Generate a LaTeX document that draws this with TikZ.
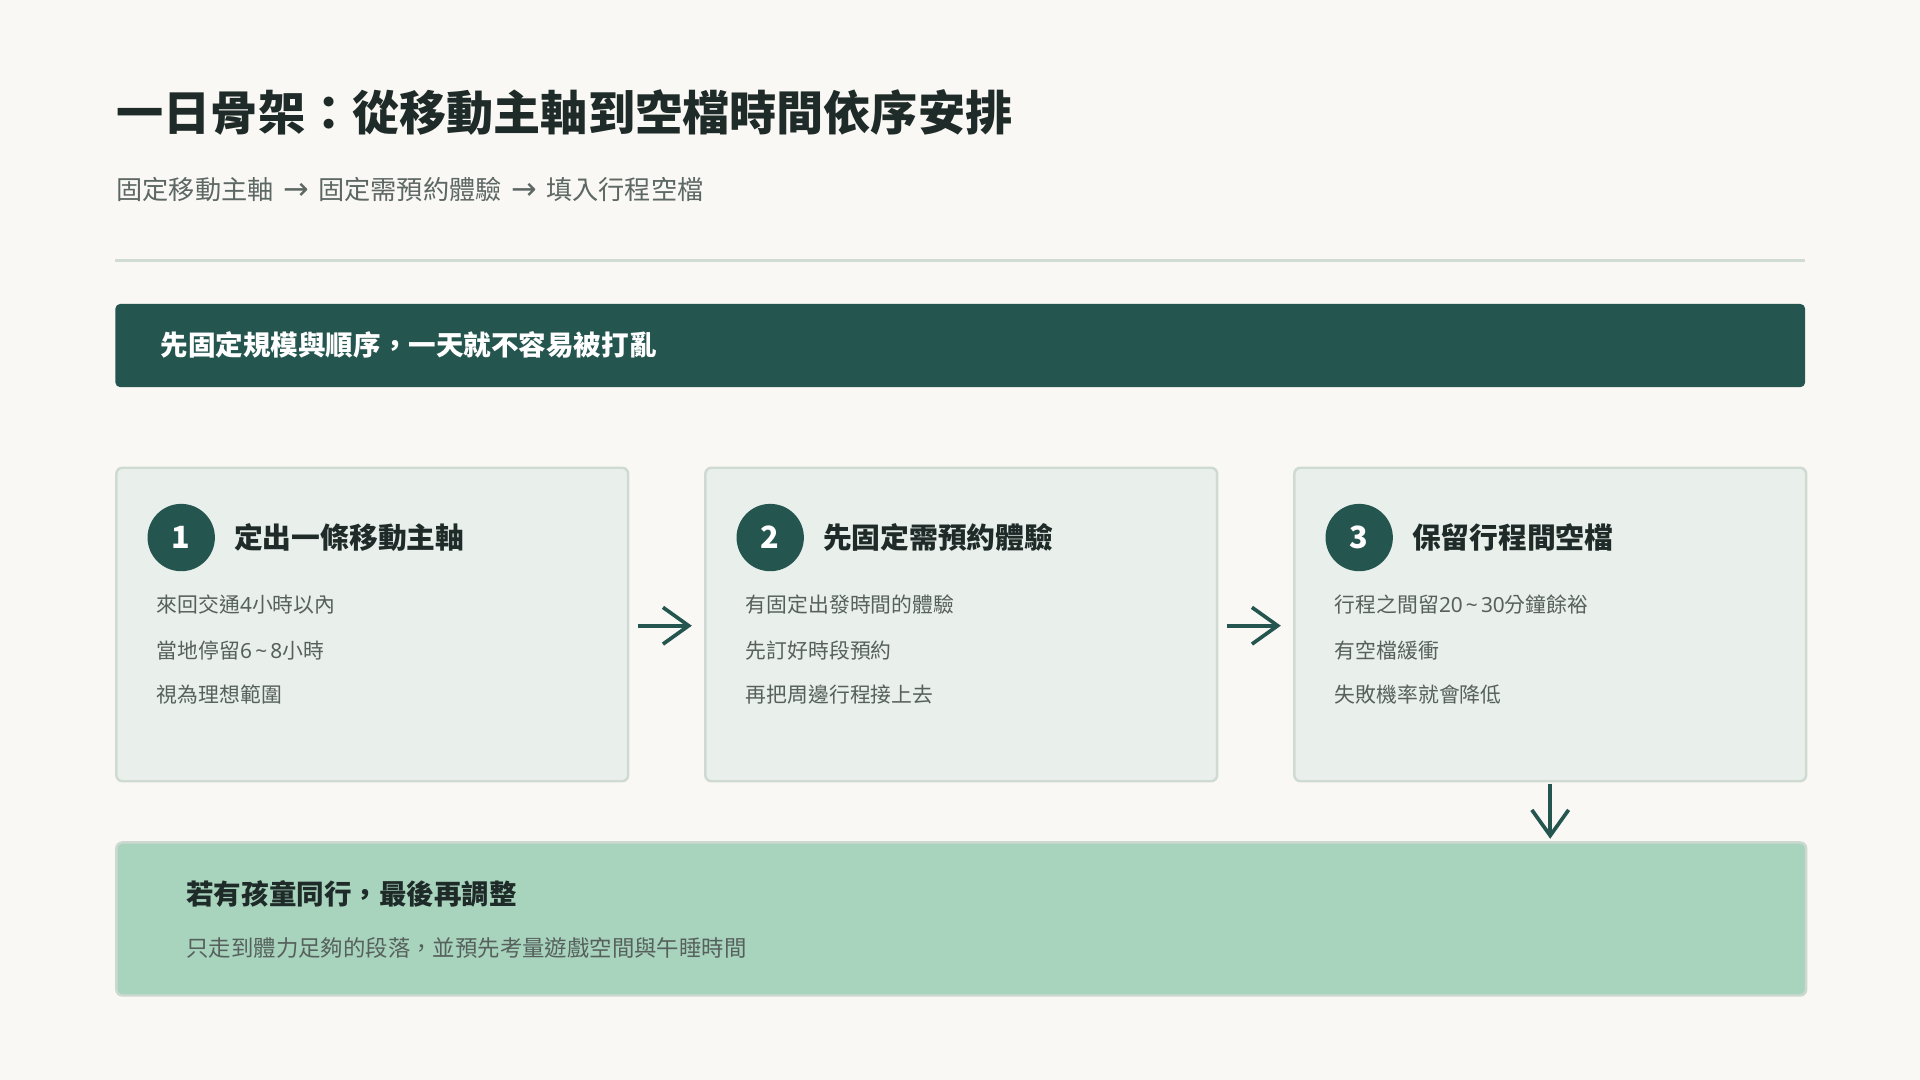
\documentclass[tikz,border=0pt]{standalone}
\usepackage{fontspec}
\setmainfont{Noto Sans CJK TC}
\newfontfamily\latf{Noto Sans}
\newfontfamily\arrf{DejaVu Sans}
\newcommand{\rarr}{\hspace{0.36em}{\arrf\fontsize{25}{25}\selectfont →}\hspace{0.36em}}
\newcommand{\tld}{\hspace{0.15em}{\latf\textasciitilde}\hspace{0.15em}}
\usetikzlibrary{arrows.meta}
\definecolor{bgc}{HTML}{F9F8F4}
\definecolor{darkg}{HTML}{24554F}
\definecolor{titlec}{HTML}{1F2B28}
\definecolor{subc}{HTML}{5D6763}
\definecolor{divc}{HTML}{D0DBD4}
\definecolor{cardf}{HTML}{E9EFEB}
\definecolor{cardb}{HTML}{CFDAD3}
\definecolor{itemc}{HTML}{56605C}
\definecolor{botf}{HTML}{A8D4BE}
\definecolor{botb}{HTML}{CDD8D1}
\tikzset{
  card/.style={draw=cardb, line width=2pt, fill=cardf, rounded corners=5pt, anchor=north west, minimum width=418pt, minimum height=256pt, inner sep=0pt},
  numcirc/.style={circle, fill=darkg, minimum size=55pt, inner sep=0pt, text=white, font=\fontsize{25}{28}\selectfont\bfseries},
  cardtitle/.style={anchor=west, inner sep=0pt, text=titlec, font=\fontsize{23.5}{28}\selectfont\bfseries},
  itemtxt/.style={anchor=west, inner sep=0pt, text=itemc, font=\fontsize{17}{20}\selectfont},
  flowarr/.style={draw=darkg, line width=3pt, -{Straight Barb[length=21pt, width=30pt, line width=3pt]}},
}
\begin{document}
\begin{tikzpicture}[x=1pt,y=-1pt]
\fill[bgc] (0,0) rectangle (1568,882);
\useasboundingbox (0,0) rectangle (1568,882);

% title and subtitle
\node[anchor=west, inner sep=0pt, text=titlec, font=\fontsize{38.5}{44}\selectfont\bfseries] (title) at (95,92) {一日骨架：從移動主軸到空檔時間依序安排};
\node[anchor=west, inner sep=0pt, text=subc, font=\fontsize{21.4}{25}\selectfont] (subtitle) at (95,155) {固定移動主軸\rarr 固定需預約體驗\rarr 填入行程空檔};
\draw[divc, line width=2.5pt] (94,213) coordinate (dl) -- (1474,213) coordinate (dr);

% banner
\node[fill=darkg, rounded corners=4pt, anchor=north west, minimum width=1380pt, minimum height=68pt, inner sep=0pt] (banner) at (94,248) {};
\node[anchor=west, inner sep=0pt, text=white, font=\fontsize{22.5}{27}\selectfont\bfseries] (bannertxt) at (131,282) {先固定規模與順序，一天就不容易被打亂};

% cards
\node[card] (b1) at (94,381) {};
\node[card] (b2) at (575,381) {};
\node[card] (b3) at (1056,381) {};

\node[numcirc] (n1) at (148,439) {1};
\node[cardtitle] (t1) at (191,439) {定出一條移動主軸};
\node[itemtxt] (i11) at (128,494) {來回交通{\latf 4}小時以內};
\node[itemtxt] (i12) at (128,531) {當地停留{\latf 6}\tld{\latf 8}小時};
\node[itemtxt] (i13) at (128,567) {視為理想範圍};

\node[numcirc] (n2) at (629,439) {2};
\node[cardtitle] (t2) at (672,439) {先固定需預約體驗};
\node[itemtxt] (i21) at (609,494) {有固定出發時間的體驗};
\node[itemtxt] (i22) at (609,531) {先訂好時段預約};
\node[itemtxt] (i23) at (609,567) {再把周邊行程接上去};

\node[numcirc] (n3) at (1110,439) {3};
\node[cardtitle] (t3) at (1153,439) {保留行程間空檔};
\node[itemtxt] (i31) at (1090,494) {行程之間留{\latf 20}\tld{\latf 30}分鐘餘裕};
\node[itemtxt] (i32) at (1090,531) {有空檔緩衝};
\node[itemtxt] (i33) at (1090,567) {失敗機率就會降低};

% bottom box
\node[draw=botb, line width=2pt, fill=botf, rounded corners=5pt, anchor=north west, minimum width=1380pt, minimum height=125pt, inner sep=0pt] (bot) at (94,687) {};
\node[anchor=west, inner sep=0pt, text=titlec, font=\fontsize{22.5}{27}\selectfont\bfseries] (bottitle) at (152,730) {若有孩童同行，最後再調整};
\node[anchor=west, inner sep=0pt, text=itemc, font=\fontsize{18.3}{22}\selectfont] (botsub) at (152,774) {只走到體力足夠的段落，並預先考量遊戲空間與午睡時間};

% connectors
\draw[flowarr, shorten <=7pt, shorten >=10pt] ([yshift=-1pt]b1.east) -- ([yshift=-1pt]b2.west);
\draw[flowarr, shorten <=7pt, shorten >=10pt] ([yshift=-1pt]b2.east) -- ([yshift=-1pt]b3.west);
\draw[flowarr, shorten <=1pt, shorten >=2pt] (b3.south) -- (b3.south |- bot.north);
\end{tikzpicture}
\end{document}
